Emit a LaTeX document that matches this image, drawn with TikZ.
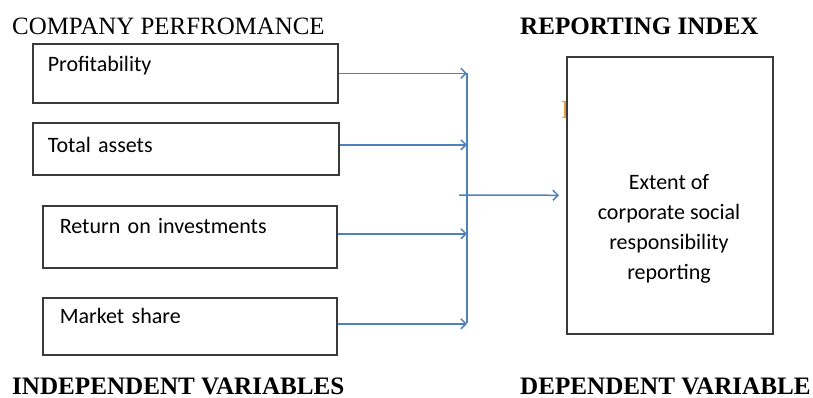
\documentclass[tikz,border=0pt]{standalone}
\usepackage{fontspec}
\setmainfont{Liberation Serif}
\newfontfamily\boxfont{Carlito}
\usepackage{xcolor}
\usetikzlibrary{arrows.meta}
\definecolor{cdarkgray}{HTML}{3a3a3a}
\definecolor{cblue}{HTML}{4f81bd}
\definecolor{corange}{HTML}{e3a036}

\tikzset{
	varbox/.style={draw=cdarkgray, line width=1.6pt, anchor=north west, align=left, inner xsep=15pt, inner ysep=0pt, font=\boxfont\fontsize{22}{30}\selectfont},
	heading/.style={anchor=base west, inner sep=0pt, font=\fontsize{24.9}{28}\selectfont},
	boldheading/.style={heading, font=\fontsize{25.1}{28}\selectfont\bfseries},
	flow/.style={color=cblue, line width=1.5pt, -{Straight Barb[length=5pt, width=10pt]}}
}

\begin{document}
\begin{tikzpicture}[x=1pt, y=-1pt]
		\useasboundingbox (0,0) rectangle (813,398);
		\node[heading] (perf) at (12,35) {COMPANY PERFROMANCE};
		\node[boldheading] (index) at (520,35) {REPORTING INDEX};
		\node[boldheading] (indep) at (12,394) {INDEPENDENT VARIABLES};
		\node[boldheading] (dep) at (520,394) {DEPENDENT VARIABLE};
		\node[varbox, text width=275pt, text height=28pt, text depth=31pt] (prof) at (32,43) {Profitability};
		\node[varbox, text width=276pt, text height=30pt, text depth=22pt] (assets) at (32,122) {Total assets};
		\node[varbox, inner xsep=17pt, text width=260pt, text height=28pt, text depth=34pt] (roi) at (42,205) {Return on investments};
		\node[varbox, inner xsep=17pt, text width=260pt, text height=26pt, text depth=31pt] (share) at (42,297) {Market share};
		\node[draw=cdarkgray, line width=1.6pt, anchor=north west, inner sep=0pt, minimum width=206pt, minimum height=277pt] (report) at (566,56) {};
		\node[align=center, font=\boxfont\fontsize{22}{30}\selectfont] (csr) at (669,229) {Extent of\\corporate social\\responsibility\\reporting};
		\draw[color=corange, line width=1.2pt] (562,101.5) -- (565,101.5) -- (565,117.5) -- (562,117.5);
		\coordinate (bustop) at (467,73);
		\coordinate (busbot) at (467,323);
		\coordinate (join) at (459,195);
		\draw[flow] (prof.east) -- (prof.east -| bustop);
		\draw[flow] ([yshift=4pt]assets.east) -- ([yshift=4pt]assets.east -| bustop);
		\draw[flow] ([yshift=3pt]roi.east) -- ([yshift=3pt]roi.east -| bustop);
		\draw[flow] ([yshift=2.5pt]share.east) -- ([yshift=2.5pt]share.east -| bustop);
		\draw[color=cblue, line width=1.5pt] (bustop) -- (busbot);
		\draw[flow, shorten >=7pt] (join) -- (report.west);
	\end{tikzpicture}
\end{document}
